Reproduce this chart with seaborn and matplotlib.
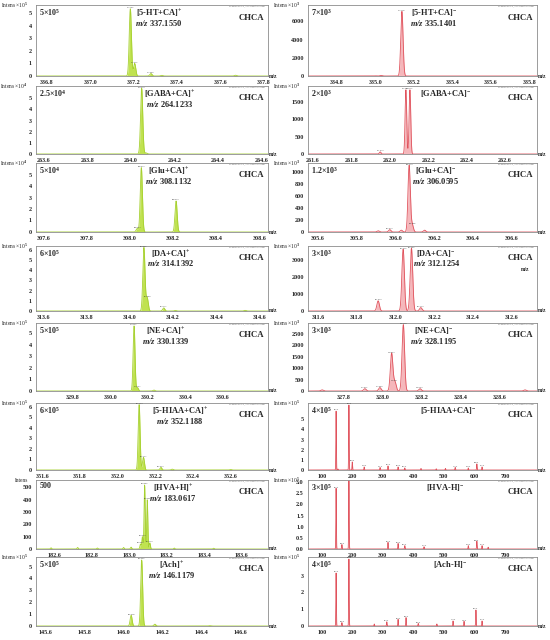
import numpy as np
import seaborn as sns
import matplotlib
matplotlib.use("Agg")
import matplotlib.pyplot as plt

# peak lists (m/z, intensity in axis units)
L1_MZ = [337.185, 337.205, 337.28, 337.33, 337.67]
L1_H = [5.35, 1.0, 0.2, 0.05, 0.06]
L2_MZ = [264.05, 264.07]
L2_H = [5.9, 0.1]
L3_MZ = [308.034, 308.053, 308.214]
L3_H = [0.3, 5.6, 2.7]
L4_MZ = [314.065, 314.08, 314.157, 314.211, 314.534]
L4_H = [6.2, 1.3, 0.3, 0.05, 0.06]
L5_MZ = [330.127, 330.145, 330.233]
L5_H = [5.6, 0.3, 0.08]
L6_MZ = [352.114, 352.137, 352.23, 352.29, 352.6]
L6_H = [6.2, 1.2, 0.25, 0.08, 0.05]
L7_MZ = [182.583, 182.725, 182.83, 182.97, 183.01, 183.06, 183.07, 183.082, 183.096, 183.11, 183.24, 183.45]
L7_H = [10, 12, 8, 12, 15, 40, 100, 520, 400, 50, 8, 6]
L8_MZ = [146.038, 146.092, 146.16, 146.44]
L8_H = [0.9, 5.55, 0.15, 0.03]

R1_MZ = [335.0, 335.03, 335.138]
R1_H = [20, 60, 7100]
R2_MZ = [261.95, 262.084, 262.105]
R2_H = [60, 1840, 1840]
R3_MZ = [305.91, 305.97, 306.03, 306.07, 306.086, 306.15]
R3_H = [20, 40, 30, 1110, 120, 30]
R4_MZ = [311.91, 312.039, 312.082, 312.13]
R4_H = [600, 3630, 3690, 200]
R5_MZ = [327.687, 327.907, 327.984, 328.044, 328.061, 328.104, 328.19, 328.728]
R5_H = [50, 100, 150, 1650, 400, 2900, 100, 50]
R6_MZ = [147, 153, 189, 200, 239, 291, 317, 350, 372, 425, 475, 505, 537, 580, 608, 625]
R6_H = [5.8, 0.1, 6.4, 0.8, 0.3, 0.25, 0.4, 0.3, 0.2, 0.15, 0.12, 0.15, 0.25, 0.2, 0.6, 0.3]
R7_MZ = [147, 166, 189, 317, 350, 372, 435, 580, 608, 625, 645]
R7_H = [2.73, 0.2, 3.07, 0.3, 0.25, 0.15, 0.1, 0.15, 0.35, 0.15, 0.08]
R8_MZ = [147, 166, 189, 272, 313, 350, 376, 416, 477, 530, 566, 605, 625]
R8_H = [3.15, 0.2, 3.98, 0.12, 0.25, 0.4, 0.5, 0.15, 0.12, 0.3, 0.28, 0.95, 0.3]

LEFT_IONS = ["[5-HT+CA]$^{+}$", "[GABA+CA]$^{+}$", "[Glu+CA]$^{+}$", "[DA+CA]$^{+}$",
             "[NE+CA]$^{+}$", "[5-HIAA+CA]$^{+}$", "[HVA+H]$^{+}$", "[Ach]$^{+}$"]
LEFT_MZ = ["337.1550", "264.1233", "308.1132", "314.1392",
           "330.1339", "352.1188", "183.0617", "146.1179"]
LEFT_SCALE = ["5×10$^{5}$", "2.5×10$^{4}$", "5×10$^{4}$", "6×10$^{5}$",
              "5×10$^{5}$", "6×10$^{5}$", "500", "5×10$^{5}$"]
LEFT_YLAB = ["Intens ×10$^{5}$", "Intens ×10$^{4}$", "Intens ×10$^{4}$", "Intens ×10$^{5}$",
             "Intens ×10$^{5}$", "Intens ×10$^{5}$", "Intens", "Intens ×10$^{5}$"]

RIGHT_IONS = ["[5-HT+CA]$^{-}$", "[GABA+CA]$^{-}$", "[Glu+CA]$^{-}$", "[DA+CA]$^{-}$",
              "[NE+CA]$^{-}$", "[5-HIAA+CA]$^{-}$", "[HVA-H]$^{-}$", "[Ach-H]$^{-}$"]
RIGHT_MZ = ["335.1401", "", "306.0595", "312.1254", "328.1195", "", "", ""]
RIGHT_SCALE = ["7×10$^{3}$", "2×10$^{3}$", "1.2×10$^{3}$", "3×10$^{3}$",
               "3×10$^{3}$", "4×10$^{5}$", "3×10$^{5}$", "4×10$^{5}$"]
RIGHT_YLAB = ["Intens ×10$^{3}$"] * 5 + ["Intens ×10$^{5}$"] * 3

left_peaks = [(L1_MZ, L1_H), (L2_MZ, L2_H), (L3_MZ, L3_H), (L4_MZ, L4_H),
              (L5_MZ, L5_H), (L6_MZ, L6_H), (L7_MZ, L7_H), (L8_MZ, L8_H)]
right_peaks = [(R1_MZ, R1_H), (R2_MZ, R2_H), (R3_MZ, R3_H), (R4_MZ, R4_H),
               (R5_MZ, R5_H), (R6_MZ, R6_H), (R7_MZ, R7_H), (R8_MZ, R8_H)]

# axis ranges
left_xlim = [(336.75, 337.82), (263.565, 264.63), (307.565, 308.64), (313.565, 314.64),
             (329.605, 330.84), (351.565, 352.8), (182.503, 183.74), (145.55, 146.74)]
left_xticks = [np.arange(336.8, 337.81, 0.2), np.arange(263.6, 264.61, 0.2),
               np.arange(307.6, 308.61, 0.2), np.arange(313.6, 314.61, 0.2),
               np.arange(329.8, 330.61, 0.2), np.arange(351.6, 352.61, 0.2),
               np.arange(182.6, 183.61, 0.2), np.arange(145.6, 146.61, 0.2)]
left_ylim = [5.65, 6.1, 6.0, 6.35, 5.85, 6.35, 560, 5.8]
left_yticks = [range(6), range(6), range(6), range(7), range(6), range(7),
               range(0, 501, 100), range(6)]

right_xlim = [(334.65, 335.84), (261.574, 262.767), (305.548, 306.73), (311.548, 312.73),
              (327.615, 328.79), (55, 805), (55, 805), (55, 805)]
right_xticks = [np.arange(334.8, 335.81, 0.2), np.arange(261.6, 262.61, 0.2),
                np.arange(305.6, 306.61, 0.2), np.arange(311.6, 312.61, 0.2),
                np.arange(327.8, 328.61, 0.2), range(100, 701, 100),
                range(100, 701, 100), range(100, 701, 100)]
right_ylim = [7800, 1950, 1150, 3820, 2970, 6.6, 3.1, 4.1]
right_yticks = [range(0, 6001, 2000), range(0, 1501, 500), range(0, 1001, 200),
                range(0, 3001, 1000), range(0, 2501, 500), range(6),
                np.arange(0, 3.01, 0.5), range(4)]

# peak widths (gaussian sigma, in m/z)
left_sig = [0.005, 0.005, 0.005, 0.005, 0.005, 0.005, 0.003, 0.005]
right_sig = [0.006, 0.0042, 0.006, 0.0065, 0.0065, 0.8, 0.8, 0.8]

left_tx = [0.53, 0.575, 0.57, 0.58, 0.56, 0.62, 0.59, 0.585]
right_tx = [0.55, 0.60, 0.555, 0.56, 0.55, 0.61, 0.60, 0.62]

sns.set_style("white")
plt.rcParams["font.family"] = ["Liberation Serif", "DejaVu Serif"]
plt.rcParams["mathtext.fontset"] = "custom"
plt.rcParams["mathtext.rm"] = "Liberation Serif"
plt.rcParams["mathtext.it"] = "Liberation Serif:italic"
plt.rcParams["mathtext.bf"] = "Liberation Serif:bold"
plt.rcParams["mathtext.bfit"] = "Liberation Serif:italic:bold"
plt.rcParams["mathtext.default"] = "bf"

fig = plt.figure(figsize=(5.5, 6.4), dpi=100)
rows_px = [(5, 76), (86, 154), (163, 232), (246, 311), (323, 391), (403, 470), (480, 549), (557, 626)]


def draw_panel(ax, peaks, xlim, xticks, ylim, yticks, ion, mz, scale, ylab,
               line, fill, sig, title_x):
    wide = sig > 0.1
    x = np.linspace(xlim[0], xlim[1], 5000)
    y = np.zeros_like(x)
    for m, h in zip(*peaks):
        y += h * np.exp(-0.5 * ((x - m) / sig) ** 2)
    ax.fill_between(x, 0, y, color=fill, lw=0)
    sns.lineplot(x=x, y=y, ax=ax, color=line, lw=0.6)
    for m, h in zip(*peaks):
        if h > 0.03 * ylim:
            lab = f"{m:.1f}" if wide else f"{m:.3f}"
            ax.text(m, h + 0.01 * ylim, lab, fontsize=1.6, ha="center", va="bottom",
                    color="#333333", clip_on=True)
    ax.set_xlim(*xlim)
    ax.set_ylim(0, ylim)
    ax.set_xticks(list(xticks))
    ax.set_yticks(list(yticks))
    if wide:
        ax.set_xticklabels([f"{t:.0f}" for t in xticks])
    else:
        ax.set_xticklabels([f"{t:.1f}" for t in xticks])
    if isinstance(yticks, np.ndarray):
        ax.set_yticklabels([f"{t:.1f}" for t in yticks])
    ax.set_xlabel("")
    ax.set_ylabel("")
    ax.tick_params(axis="both", length=2, width=0.5, pad=1, labelsize=4.4,
                   color="#666666", direction="out")
    for lab in ax.get_xticklabels() + ax.get_yticklabels():
        lab.set_fontweight("bold")
    for sp in ax.spines.values():
        sp.set_color("#8c8c8c")
        sp.set_linewidth(0.6)
    ax.text(title_x, 0.965, ion, transform=ax.transAxes, fontsize=6, fontweight="bold",
            ha="center", va="top")
    if mz:
        ax.text(title_x, 0.81, r"$\mathbfit{m/z}$ " + mz, transform=ax.transAxes,
                fontsize=6, fontweight="bold", ha="center", va="top")
    ax.text(0.015, 0.97, scale, transform=ax.transAxes, fontsize=5.8,
            fontweight="bold", ha="left", va="top")
    ax.text(0.985, 0.88, "CHCA", transform=ax.transAxes, fontsize=6.3,
            fontweight="bold", ha="right", va="top")
    ax.text(0.985, 0.99, "D:\\Data\\CHCA\\0_A1\\1\\1SRef  spectrum", transform=ax.transAxes,
            fontsize=1.5, color="#666666", ha="right", va="top")
    ax.text(-0.035, 1.0, ylab, transform=ax.transAxes, fontsize=4.0,
            ha="right", va="center")
    ax.text(1.005, 0.0, "m/z", transform=ax.transAxes, fontsize=4,
            fontweight="bold", ha="left", va="center")


for i, (top, bot) in enumerate(rows_px):
    b = 1 - bot / 640
    h = (bot - top) / 640
    axl = fig.add_axes([36 / 550, b, 232 / 550, h])
    draw_panel(axl, left_peaks[i], left_xlim[i], left_xticks[i], left_ylim[i],
               left_yticks[i], LEFT_IONS[i], LEFT_MZ[i], LEFT_SCALE[i], LEFT_YLAB[i],
               "#a6d030", "#c0e250", left_sig[i], left_tx[i])
    axr = fig.add_axes([308 / 550, b, 229 / 550, h])
    draw_panel(axr, right_peaks[i], right_xlim[i], right_xticks[i], right_ylim[i],
               right_yticks[i], RIGHT_IONS[i], RIGHT_MZ[i], RIGHT_SCALE[i], RIGHT_YLAB[i],
               "#e0525c", "#f5b7bb", right_sig[i], right_tx[i])
    if i == 3:
        axr.text(0.95, 0.62, "m/z", transform=axr.transAxes, fontsize=4,
                 fontweight="bold", ha="center")

fig.savefig("out.png", dpi=100)
